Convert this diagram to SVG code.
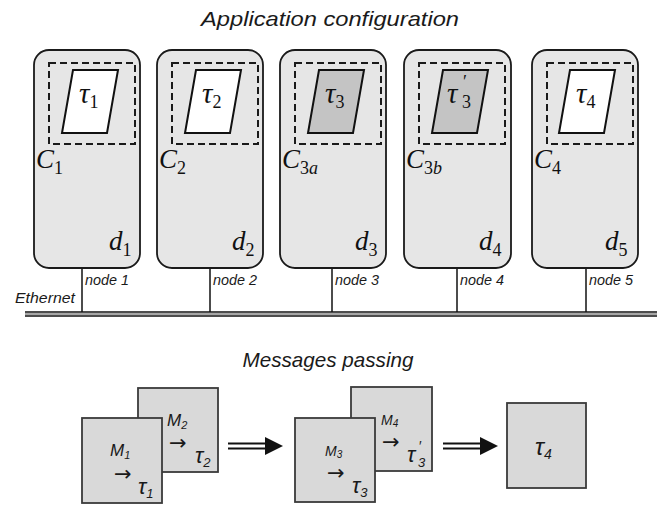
<svg xmlns="http://www.w3.org/2000/svg" width="662" height="505" viewBox="0 0 662 505">
  <style>
    .dev { fill: #e6e6e6; stroke: #1a1a1a; stroke-width: 1.8; }
    .cont { fill: none; stroke: #1a1a1a; stroke-width: 2; stroke-dasharray: 7 4; }
    .task { stroke: #111; stroke-width: 2; }
    .plain { fill: #ffffff; }
    .rep { fill: #c4c4c4; }
    .m { font-family: "Liberation Serif", serif; font-style: italic; fill: #111; }
    .tau { font-size: 29px; }
    .lbl { font-size: 27px; }
    .sub { font-style: normal; font-size: 18px; }
    .subi { font-style: italic; font-size: 18px; }
    .s { font-family: "Liberation Sans", Arial, sans-serif; font-style: italic; fill: #1a1a1a; }
    .title { font-size: 21px; }
    .port { font-size: 15px; }
    .drop { stroke: #111; stroke-width: 1.5; }
    .msg { fill: #d9d9d9; stroke: #3a3a3a; stroke-width: 1.8; }
    .to { font-family: "DejaVu Sans", sans-serif; font-style: normal; font-size: 21px; }
    .arr { stroke: #111; stroke-width: 1.8; }
  </style>

  <!-- headings -->
  <text class="s title" x="330" y="26" text-anchor="middle" textLength="258" lengthAdjust="spacingAndGlyphs">Application configuration</text>
  <text class="s title" x="328" y="367" text-anchor="middle" textLength="171" lengthAdjust="spacingAndGlyphs">Messages passing</text>

  <!-- bus -->
  <g id="ethernet">
    <line x1="25" y1="312" x2="657" y2="312" stroke="#4d4d4d" stroke-width="2"/>
    <line x1="25" y1="314" x2="657" y2="314" stroke="#a6a6a6" stroke-width="2"/>
    <line x1="25" y1="316" x2="657" y2="316" stroke="#4d4d4d" stroke-width="2"/>
    <text class="s" x="15" y="303" font-size="15" textLength="60" lengthAdjust="spacingAndGlyphs">Ethernet</text>
  </g>

  <!-- node-to-bus drops and message-flow arrows -->
  <g id="connectors">
    <line class="drop" x1="82" y1="268" x2="82" y2="312"/>
    <line class="drop" x1="210" y1="268" x2="210" y2="312"/>
    <line class="drop" x1="332" y1="268" x2="332" y2="312"/>
    <line class="drop" x1="457" y1="268" x2="457" y2="312"/>
    <line class="drop" x1="586" y1="268" x2="586" y2="312"/>
    <line class="arr" x1="228" y1="443.5" x2="268" y2="443.5"/>
    <line class="arr" x1="228" y1="448.5" x2="268" y2="448.5"/>
    <polygon points="265,437 283,446 265,455" fill="#111"/>
    <line class="arr" x1="443" y1="443.5" x2="483" y2="443.5"/>
    <line class="arr" x1="443" y1="448.5" x2="483" y2="448.5"/>
    <polygon points="480,437 498,446 480,455" fill="#111"/>
  </g>

  <!-- device nodes -->
  <g id="node1">
    <rect class="dev" x="34" y="50" width="106" height="218" rx="15"/>
    <rect class="cont" x="49" y="63" width="86" height="81"/>
    <polygon class="task plain" points="73,70 118,70 107,133 62,133"/>
    <text class="m tau" x="79" y="103">τ<tspan class="sub" dy="5">1</tspan></text>
    <text class="m lbl" x="36" y="168">C<tspan class="sub" dy="6">1</tspan></text>
    <text class="m lbl" x="109" y="250">d<tspan class="sub" dy="6">1</tspan></text>
    <text class="s port" x="85" y="285" textLength="44" lengthAdjust="spacingAndGlyphs">node 1</text>
  </g>

  <g id="node2">
    <rect class="dev" x="157" y="50" width="106" height="218" rx="15"/>
    <rect class="cont" x="172" y="63" width="86" height="81"/>
    <polygon class="task plain" points="196,70 241,70 230,133 185,133"/>
    <text class="m tau" x="202" y="103">τ<tspan class="sub" dy="5">2</tspan></text>
    <text class="m lbl" x="159" y="168">C<tspan class="sub" dy="6">2</tspan></text>
    <text class="m lbl" x="232" y="250">d<tspan class="sub" dy="6">2</tspan></text>
    <text class="s port" x="213" y="285" textLength="44" lengthAdjust="spacingAndGlyphs">node 2</text>
  </g>

  <g id="node3">
    <rect class="dev" x="280" y="50" width="106" height="218" rx="15"/>
    <rect class="cont" x="295" y="63" width="86" height="81"/>
    <polygon class="task rep" points="319,70 364,70 353,133 308,133"/>
    <text class="m tau" x="325" y="103">τ<tspan class="sub" dy="5">3</tspan></text>
    <text class="m lbl" x="282" y="168">C<tspan class="sub" dy="6">3</tspan><tspan class="subi">a</tspan></text>
    <text class="m lbl" x="355" y="250">d<tspan class="sub" dy="6">3</tspan></text>
    <text class="s port" x="335" y="285" textLength="44" lengthAdjust="spacingAndGlyphs">node 3</text>
  </g>

  <g id="node4">
    <rect class="dev" x="404" y="50" width="107" height="218" rx="15"/>
    <rect class="cont" x="419" y="63" width="86" height="81"/>
    <polygon class="task rep" points="443,70 488,70 477,133 432,133"/>
    <text class="m tau" x="447" y="103">τ<tspan class="sub" x="463" dy="-15" font-size="20">′</tspan><tspan class="sub" x="462" dy="20">3</tspan></text>
    <text class="m lbl" x="406" y="168">C<tspan class="sub" dy="6">3</tspan><tspan class="subi">b</tspan></text>
    <text class="m lbl" x="479" y="250">d<tspan class="sub" dy="6">4</tspan></text>
    <text class="s port" x="460" y="285" textLength="44" lengthAdjust="spacingAndGlyphs">node 4</text>
  </g>

  <g id="node5">
    <rect class="dev" x="532" y="50" width="106" height="218" rx="15"/>
    <rect class="cont" x="547" y="63" width="86" height="81"/>
    <polygon class="task plain" points="570,70 615,70 604,133 559,133"/>
    <text class="m tau" x="576" y="103">τ<tspan class="sub" dy="5">4</tspan></text>
    <text class="m lbl" x="534" y="168">C<tspan class="sub" dy="6">4</tspan></text>
    <text class="m lbl" x="605" y="250">d<tspan class="sub" dy="6">5</tspan></text>
    <text class="s port" x="589" y="285" textLength="44" lengthAdjust="spacingAndGlyphs">node 5</text>
  </g>

  <!-- message frames: each label is one text block (message, arrow, target task) -->
  <g id="msg2">
    <rect class="msg" x="138" y="388" width="80" height="84"/>
    <text class="s" x="167" y="426" font-size="17">M<tspan font-size="11" dy="3">2</tspan><tspan class="to" x="169" dy="21">→</tspan><tspan x="195" dy="13" font-size="22">τ</tspan><tspan font-size="13" dy="4">2</tspan></text>
  </g>
  <g id="msg1">
    <rect class="msg" x="82" y="418" width="80" height="85"/>
    <text class="s" x="110" y="456" font-size="17">M<tspan font-size="11" dy="3">1</tspan><tspan class="to" x="114" dy="22">→</tspan><tspan x="138" dy="13" font-size="22">τ</tspan><tspan font-size="13" dy="4">1</tspan></text>
  </g>
  <g id="msg4">
    <rect class="msg" x="351" y="387" width="81" height="84"/>
    <text class="s" x="381" y="425" font-size="14">M<tspan font-size="10" dy="2">4</tspan><tspan class="to" x="382" dy="22">→</tspan><tspan x="407" dy="13" font-size="22">τ</tspan><tspan font-size="14" font-style="normal" x="419" dy="-11">′</tspan><tspan font-size="13" x="418" dy="16">3</tspan></text>
  </g>
  <g id="msg3">
    <rect class="msg" x="295" y="418" width="80" height="84"/>
    <text class="s" x="325" y="456" font-size="14">M<tspan font-size="10" dy="2">3</tspan><tspan class="to" x="327" dy="22">→</tspan><tspan x="352" dy="13" font-size="22">τ</tspan><tspan font-size="13" dy="4">3</tspan></text>
  </g>
  <g id="msg5">
    <rect class="msg" x="507" y="403" width="79" height="85"/>
    <text class="s" x="535" y="455" font-size="24">τ<tspan font-size="14" dy="4">4</tspan></text>
  </g>
</svg>
